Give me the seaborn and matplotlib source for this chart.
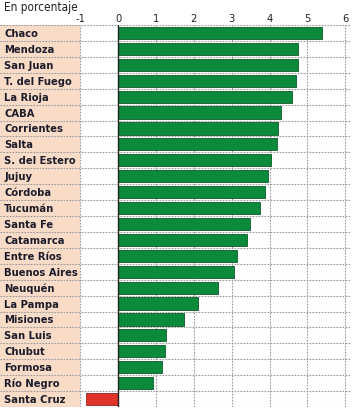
import os
import matplotlib
matplotlib.use("Agg")
import matplotlib.pyplot as plt
from matplotlib import font_manager
import seaborn as sns
import pandas as pd

provinces = ["Chaco", "Mendoza", "San Juan", "T. del Fuego", "La Rioja", "CABA",
             "Corrientes", "Salta", "S. del Estero", "Jujuy", "Córdoba", "Tucumán",
             "Santa Fe", "Catamarca", "Entre Ríos", "Buenos Aires", "Neuquén",
             "La Pampa", "Misiones", "San Luis", "Chubut", "Formosa", "Río Negro",
             "Santa Cruz"]
values = [5.39, 4.75, 4.74, 4.70, 4.59, 4.29, 4.22, 4.20, 4.04, 3.95, 3.89, 3.74,
          3.49, 3.41, 3.14, 3.07, 2.65, 2.11, 1.73, 1.27, 1.23, 1.17, 0.91, -0.85]
x_ticks = [-1, 0, 1, 2, 3, 4, 5, 6]
subtitle = "En porcentaje"

sns.set_theme(style="white")
plt.rcParams["font.family"] = ["DejaVu Sans"]

by_base = {os.path.basename(f.fname): f.fname for f in font_manager.fontManager.ttflist}
cond_bold = by_base.get("DejaVuSansCondensed-Bold.ttf")
cond_reg = by_base.get("DejaVuSansCondensed.ttf")

def fp(path, size, weight="normal"):
    if path:
        return font_manager.FontProperties(fname=path, size=size)
    return font_manager.FontProperties(family="DejaVu Sans", size=size * 0.9,
                                       weight=weight)

df = pd.DataFrame({"prov": provinces, "val": values})
df["sign"] = ["neg" if v < 0 else "pos" for v in values]

fig = plt.figure(figsize=(3.54, 4.08), dpi=100)
ax = fig.add_axes([0, 1 / 408, 351 / 354, 382 / 408])

x_left = -3.12
ax.axvspan(x_left, -1, color="#f9dcc8", zorder=0, lw=0)

sns.barplot(data=df, x="val", y="prov", hue="sign", order=provinces,
            palette={"pos": "#0b8a3c", "neg": "#e0332a"}, dodge=False,
            saturation=1, width=0.76, legend=False, edgecolor="#0d5a2c",
            linewidth=0.6, ax=ax, zorder=3)
for p in ax.patches:
    if p.get_width() < 0:
        p.set_edgecolor("#8a2a22")

ax.set_xlim(x_left, 6.15)
ax.set_ylim(len(provinces) - 0.5, -0.5)

for xv in x_ticks:
    if xv != 0:
        ax.axvline(xv, color="#999999", lw=0.8, ls=(0, (1.5, 1.2)), zorder=1)
for k in range(len(provinces) + 1):
    ax.axhline(k - 0.5, color="#999999", lw=0.8, ls=(0, (1.5, 1.2)), zorder=4)
ax.axvline(0, color="#222222", lw=1.0, zorder=5)

ax.xaxis.tick_top()
ax.set_xticks(x_ticks)
ax.set_xticklabels([str(t) for t in x_ticks], color="#222222",
                   fontproperties=fp(cond_reg, 8))
ax.tick_params(axis="x", length=0, pad=1)
ax.set_yticks(range(len(provinces)))
ax.set_yticklabels(provinces, color="#1c1c2a", ha="left",
                   fontproperties=fp(cond_bold, 8, "bold"))
ax.tick_params(axis="y", length=0, pad=-3)
ax.set_xlabel("")
ax.set_ylabel("")
for s in ax.spines.values():
    s.set_visible(False)

fig.text(4 / 354, 1 - 7 / 408, subtitle, color="#222222", va="center", ha="left",
         fontproperties=fp(cond_reg, 8.5))

fig.savefig("out.png", dpi=100)
